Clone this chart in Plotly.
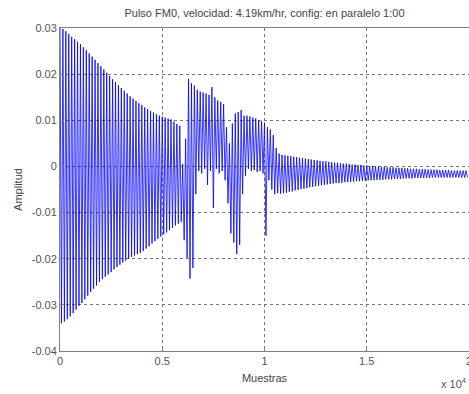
import plotly.graph_objects as go

# One positive peak and one negative trough per oscillation cycle
picos = [
    0.0300, 0.0298, 0.0293, 0.0287, 0.0281, 0.0276, 0.0270, 0.0265, 0.0258, 0.0252,
    0.0245, 0.0238, 0.0231, 0.0224, 0.0217, 0.0210, 0.0203, 0.0196, 0.0189, 0.0183,
    0.0176, 0.0170, 0.0164, 0.0158, 0.0152, 0.0147, 0.0142, 0.0137, 0.0133, 0.0128,
    0.0124, 0.0120, 0.0117, 0.0113, 0.0110, 0.0108, 0.0106, 0.0104, 0.0102, 0.0097,
    0.0092, 0.0088, 0.0005, 0.0060, 0.0190, 0.0180, 0.0175, 0.0166, 0.0162, 0.0160,
    0.0158, 0.0155, 0.0172, 0.0150, 0.0143, 0.0140, 0.0135, 0.0085, 0.0050, 0.0093,
    0.0115, 0.0118, 0.0122, 0.0110, 0.0110, 0.0108, 0.0106, 0.0104, 0.0100, 0.0098,
    0.0095, 0.0085, 0.0080, 0.0068, 0.0040, 0.0028, 0.0025, 0.0024, 0.0023, 0.0022,
    0.0021, 0.0020, 0.0019, 0.0018, 0.0017, 0.0016, 0.0015, 0.0014, 0.0013, 0.0012,
    0.0011, 0.0011, 0.0010, 0.0009, 0.0008, 0.0008, 0.0007, 0.0006, 0.0006, 0.0005,
    0.0004, 0.0004, 0.0003, 0.0003, 0.0002, 0.0002, 0.0001, 0.0001, 0.0000, 0.0000,
    -0.0001, -0.0001, -0.0002, -0.0002, -0.0002, -0.0003, -0.0003, -0.0003, -0.0004, -0.0004,
    -0.0005, -0.0005, -0.0005, -0.0006, -0.0006, -0.0006, -0.0007, -0.0007, -0.0007, -0.0007,
    -0.0008, -0.0008, -0.0008, -0.0008, -0.0009, -0.0009, -0.0009, -0.0009, -0.0009, -0.0009,
]
valles = [
    -0.0340, -0.0336, -0.0331, -0.0325, -0.0318, -0.0310, -0.0302, -0.0296, -0.0288, -0.0280,
    -0.0272, -0.0265, -0.0258, -0.0250, -0.0244, -0.0239, -0.0234, -0.0229, -0.0223, -0.0218,
    -0.0213, -0.0208, -0.0204, -0.0200, -0.0196, -0.0193, -0.0190, -0.0187, -0.0183, -0.0178,
    -0.0173, -0.0167, -0.0162, -0.0157, -0.0152, -0.0147, -0.0143, -0.0138, -0.0133, -0.0128,
    -0.0124, -0.0120, -0.0160, -0.0198, -0.0243, -0.0220, -0.0060, -0.0010, -0.0015, -0.0005,
    -0.0040, -0.0010, -0.0090, -0.0005, -0.0015, -0.0010, -0.0030, -0.0080, -0.0145, -0.0165,
    -0.0190, -0.0170, -0.0060, -0.0020, -0.0005, -0.0010, -0.0008, -0.0012, -0.0010, -0.0015,
    -0.0150, -0.0030, -0.0050, -0.0060, -0.0058, -0.0059, -0.0058, -0.0057, -0.0055, -0.0054,
    -0.0052, -0.0051, -0.0049, -0.0048, -0.0047, -0.0045, -0.0044, -0.0043, -0.0042, -0.0041,
    -0.0040, -0.0039, -0.0038, -0.0037, -0.0036, -0.0036, -0.0035, -0.0034, -0.0034, -0.0033,
    -0.0033, -0.0032, -0.0032, -0.0031, -0.0031, -0.0030, -0.0030, -0.0030, -0.0029, -0.0029,
    -0.0029, -0.0028, -0.0028, -0.0028, -0.0027, -0.0027, -0.0027, -0.0026, -0.0026, -0.0026,
    -0.0026, -0.0025, -0.0025, -0.0025, -0.0025, -0.0025, -0.0025, -0.0024, -0.0024, -0.0024,
    -0.0024, -0.0024, -0.0024, -0.0024, -0.0024, -0.0024, -0.0024, -0.0024, -0.0024, -0.0024,
]
total_muestras = 20000
x_ticks = [0, 5000, 10000, 15000, 20000]
x_tick_labels = ["0", "0.5", "1", "1.5", "2"]
y_ticks = [-0.04, -0.03, -0.02, -0.01, 0, 0.01, 0.02, 0.03]
y_tick_labels = ["-0.04", "-0.03", "-0.02", "-0.01", "0", "0.01", "0.02", "0.03"]

n = len(picos)
paso = total_muestras / n / 2
xs, ys = [], []
for k in range(n):
    xs.append((2 * k) * paso)
    ys.append(picos[k])
    xs.append((2 * k + 1) * paso)
    ys.append(valles[k])

fig = go.Figure()
fig.add_trace(go.Scatter(x=xs, y=ys, mode="lines",
                         line=dict(color="#0000FF", width=0.8), showlegend=False))

font_txt = dict(family="Liberation Sans, Arial", size=11, color="#444444")
axis_common = dict(showline=True, linecolor="#808080", linewidth=1, mirror=True,
                   showgrid=True, gridcolor="#777777", griddash="dot", gridwidth=1,
                   zeroline=False, ticks="inside", ticklen=4, tickcolor="#808080",
                   ticklabeloverflow="allow", automargin=False,
                   tickfont=dict(family="Liberation Sans, Arial", size=11, color="#555555"))

fig.update_layout(
    width=469, height=394,
    margin=dict(l=60, r=0, t=28, b=43, autoexpand=False),
    paper_bgcolor="white", plot_bgcolor="white",
    title=dict(text="Pulso FM0, velocidad: 4.19km/hr, config: en paralelo 1:00",
               x=(60 + 469) / 2 / 469, xanchor="center", y=1 - 13 / 394, yanchor="middle",
               font=font_txt),
    xaxis=dict(range=[0, total_muestras], tickvals=x_ticks, ticktext=x_tick_labels,
               title=dict(text="Muestras", standoff=8, font=font_txt),
               **axis_common),
    yaxis=dict(range=[-0.04, 0.03], tickvals=y_ticks, ticktext=y_tick_labels,
               title=dict(text="Amplitud", standoff=6, font=font_txt),
               **axis_common),
)
fig.add_annotation(text="x 10<sup>4</sup>", xref="paper", yref="paper",
                   x=1.0, y=-0.072, xanchor="right", yanchor="top", showarrow=False,
                   font=dict(family="Liberation Sans, Arial", size=11, color="#555555"))

fig.write_html("out.html")
